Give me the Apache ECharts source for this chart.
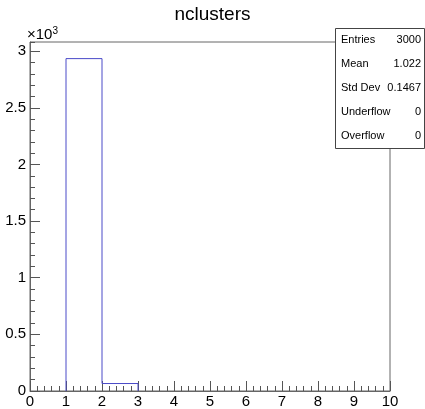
<!DOCTYPE html>
<html>
<head>
<meta charset="utf-8">
<script src="https://cdn.jsdelivr.net/npm/echarts@6/dist/echarts.min.js"></script>
<style>
  html, body { margin: 0; padding: 0; background: #fff; }
  #chart { width: 425px; height: 409px; }
</style>
</head>
<body>
<div id="chart"></div>
<script>
// histogram data: bin edges and counts
const binEdges = [0, 1, 2, 3, 4, 5, 6, 7, 8, 9, 10];
const binCounts = [0, 2934, 66, 0, 0, 0, 0, 0, 0, 0];
const xTicks = [0, 1, 2, 3, 4, 5, 6, 7, 8, 9, 10];
const yTicks = [0, 500, 1000, 1500, 2000, 2500, 3000];
const statNames = ['Entries', 'Mean', 'Std Dev', 'Underflow', 'Overflow'];
const statValues = ['3000', '1.022', '0.1467', '0', '0'];

const font = '"Liberation Sans", Arial, Helvetica, sans-serif';
const yMax = Math.max(...binCounts) * 1.05;

// outline of the histogram (ROOT style, no fill)
const outline = [];
let first = binCounts.findIndex(c => c > 0);
let last = binCounts.length - 1;
while (last > 0 && binCounts[last] === 0) last--;
outline.push([binEdges[first], 0]);
for (let i = first; i <= last; i++) {
    outline.push([binEdges[i], binCounts[i]]);
    outline.push([binEdges[i + 1], binCounts[i]]);
}
outline.push([binEdges[last + 1], 0]);

const chart = echarts.init(document.getElementById('chart'));

// stats box
const boxX = 335, boxY = 28, boxW = 89, boxH = 120;
const rowH = boxH / statNames.length;
const statGraphics = [{
    type: 'rect',
    shape: { x: boxX + 0.5, y: boxY + 0.5, width: boxW, height: boxH },
    style: { fill: '#fff', stroke: '#444', lineWidth: 1 },
    z: 10
}];
statNames.forEach((name, i) => {
    statGraphics.push({
        type: 'text', x: boxX + 6, y: boxY + rowH * (i + 0.5), z: 11,
        style: { text: name, font: '11px ' + font, fill: '#000', verticalAlign: 'middle' }
    });
    statGraphics.push({
        type: 'text', x: boxX + boxW - 3, y: boxY + rowH * (i + 0.5), z: 11,
        style: { text: statValues[i], font: '11px ' + font, fill: '#000', align: 'right', verticalAlign: 'middle' }
    });
});

const option = {
    animation: false,
    title: {
        text: 'nclusters',
        left: 'center',
        top: 0,
        textStyle: { fontFamily: font, fontSize: 19, fontWeight: 'normal', color: '#000' }
    },
    grid: {
        left: 30, right: 35, top: 42, bottom: 18,
        show: true, borderColor: '#666', borderWidth: 1, backgroundColor: 'transparent'
    },
    xAxis: {
        type: 'value',
        min: xTicks[0],
        max: xTicks[xTicks.length - 1],
        interval: 1,
        axisLine: { lineStyle: { color: '#666' } },
        axisTick: { inside: true, length: 10, lineStyle: { color: '#555' } },
        minorTick: { show: true, splitNumber: 5, length: 5, lineStyle: { color: '#555' } },
        splitLine: { show: false },
        axisLabel: { color: '#000', fontSize: 15, fontFamily: font, margin: 3 }
    },
    yAxis: [
        {
            // minor ticks every 100
            type: 'value', min: 0, max: yMax, interval: 100, position: 'left',
            axisLine: { show: true, lineStyle: { color: '#666' } },
            axisTick: { show: true, inside: true, length: 5, lineStyle: { color: '#555' } },
            axisLabel: { show: false },
            splitLine: { show: false }
        },
        {
            // major ticks + labels every 500
            type: 'value', min: 0, max: yMax, interval: 500, position: 'left',
            axisLine: { show: false },
            axisTick: { show: true, inside: true, length: 10, lineStyle: { color: '#555' } },
            axisLabel: {
                color: '#000', fontSize: 15, fontFamily: font, margin: 4, showMaxLabel: false,
                formatter: v => yTicks.includes(v) ? String(v / 1000) : ''
            },
            splitLine: { show: false }
        }
    ],
    graphic: [
        {
            type: 'text', x: 27, y: 26,
            style: {
                text: '×10{s|3}',
                rich: { s: { fontSize: 10, fontFamily: font, verticalAlign: 'top', padding: [0, 0, 8, 0] } },
                font: '15px ' + font, fill: '#000'
            }
        }
    ].concat(statGraphics),
    series: [{
        type: 'line',
        data: outline,
        yAxisIndex: 0,
        symbol: 'none',
        lineStyle: { color: '#4a4ac8', width: 1 },
        z: 3
    }]
};

chart.setOption(option);
</script>
</body>
</html>
